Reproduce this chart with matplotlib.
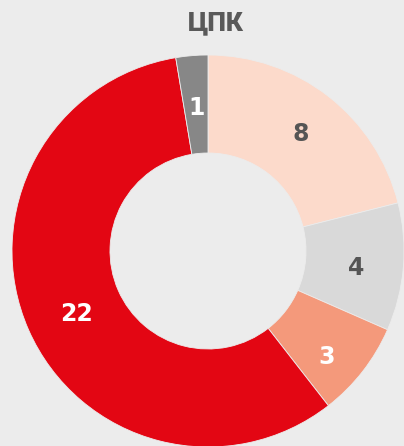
import matplotlib
matplotlib.use("Agg")
import matplotlib.pyplot as plt
import numpy as np

values = [8, 4, 3, 22, 1]
labels = ["8", "4", "3", "22", "1"]
colors = ["#fcdacb", "#d9d9d9", "#f4997b", "#e30613", "#878787"]
text_colors = ["#555555", "#555555", "#ffffff", "#ffffff", "#ffffff"]
title = "ЦПК"

# label fine-tuning (pixels, x right / y up)
label_nudge = [(2, 0), (1, -5), (2, -15), (4, -4), (1, -4)]

bg = "#ececec"
fig = plt.figure(figsize=(4.04, 4.46), dpi=100, facecolor=bg)
ax = fig.add_axes([12/404, -1/446, 392/404, 392/446])
ax.set_facecolor(bg)
wedges, _ = ax.pie(values, colors=colors, startangle=90, counterclock=False,
                   radius=1.0,
                   wedgeprops=dict(width=0.5, edgecolor=bg, linewidth=0.6))
for w, lab, c, (dx, dy) in zip(wedges, labels, text_colors, label_nudge):
    ang = np.deg2rad((w.theta1 + w.theta2) / 2)
    r = 0.755
    ax.annotate(lab, (r * np.cos(ang), r * np.sin(ang)),
                xytext=(dx * 0.72, dy * 0.72), textcoords="offset points",
                ha="center", va="center", fontsize=17, fontweight="heavy",
                color=c, family="DejaVu Sans")
ax.set_xlim(-1, 1)
ax.set_ylim(-1, 1)
ax.set_aspect("equal")
ax.axis("off")
fig.text(216/404, 1 - 23.5/446, title, ha="center", va="center", fontsize=19,
         fontweight=900, color="#595959", family="Roboto")
fig.savefig("out.png", dpi=100, facecolor=bg)
